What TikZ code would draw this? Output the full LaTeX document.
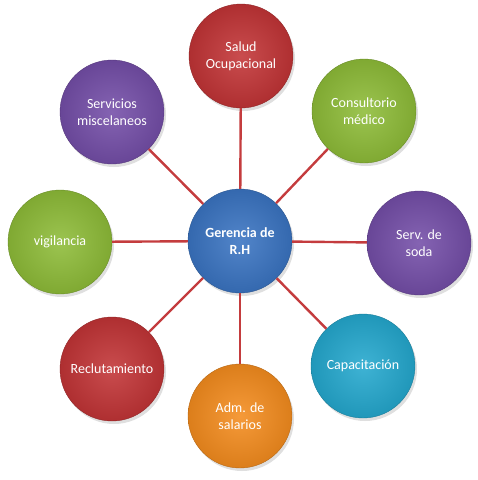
\documentclass[tikz,border=0pt]{standalone}
\usepackage{fontspec}
\setmainfont{Carlito}
\usetikzlibrary{shadows}
\definecolor{cred}{RGB}{194,52,54}
\definecolor{cblue}{RGB}{58,116,194}
\definecolor{cgreen}{RGB}{142,188,56}
\definecolor{cpurple}{RGB}{116,78,168}
\definecolor{ccyan}{RGB}{36,168,206}
\definecolor{corange}{RGB}{244,140,30}
\definecolor{cline}{RGB}{196,60,62}
\tikzset{
  bubble/.style={circle, minimum size=104pt, inner sep=0pt, align=center,
    text=white, font=\fontsize{14}{17}\selectfont,
    inner color=#1!88!white, outer color=#1!90!black,
    draw=#1!75!black, line width=0.4pt,
    drop shadow={shadow xshift=2pt, shadow yshift=-3pt, opacity=0.25}},
  link/.style={draw=cline, line width=2.4pt}
}
\begin{document}
\begin{tikzpicture}[x=1pt,y=-1pt]
\useasboundingbox (0,0) rectangle (478,480);
\node[bubble=cblue, font=\fontsize{14}{17}\selectfont\bfseries] (c) at (240,241) {Gerencia de\\R.H};
\node[bubble=cred] (n1) at (241,56) {Salud\\Ocupacional};
\node[bubble=cgreen] (n2) at (364,111) {Consultorio\\médico};
\node[bubble=cpurple] (n3) at (419,243) {Serv. de\\soda};
\node[bubble=ccyan] (n4) at (363,366) {Capacitación};
\node[bubble=corange] (n5) at (240,416) {Adm. de\\salarios};
\node[bubble=cred] (n6) at (112,369) {Reclutamiento};
\node[bubble=cgreen] (n7) at (60,242) {vigilancia};
\node[bubble=cpurple] (n8) at (112,112) {Servicios\\miscelaneos};
\foreach \n in {n1,n2,n3,n4,n5,n6,n7,n8}
  \draw[link] (c) -- (\n);
\end{tikzpicture}
\end{document}
